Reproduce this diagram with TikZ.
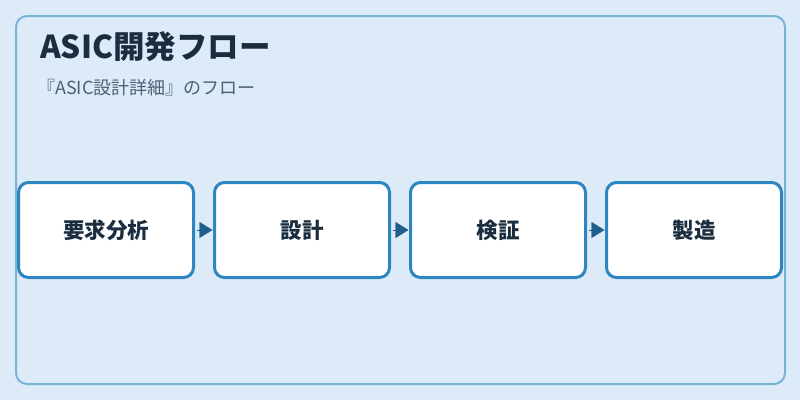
\documentclass[tikz,border=0pt]{standalone}
\usepackage{fontspec}
\setmainfont{Noto Sans CJK JP}
\usetikzlibrary{arrows.meta}
\definecolor{bg_blue}{RGB}{220, 235, 247}
\definecolor{frame_blue}{RGB}{122, 179, 214}
\definecolor{box_blue}{RGB}{46, 134, 193}
\definecolor{tip_blue}{RGB}{31, 95, 139}
\definecolor{ink}{RGB}{27, 46, 64}
\definecolor{sub_ink}{RGB}{74, 98, 117}
\tikzstyle{stage}=[rectangle,rounded corners=10pt,fill=white,draw=box_blue,
  line width=3pt,outer sep=0pt,minimum width=175pt,minimum height=95pt,
  text=ink,font=\fontsize{21.5}{26}\selectfont\bfseries]
\tikzstyle{flow}=[draw=tip_blue,line width=0.4pt,
  -{Triangle[length=13pt,width=16pt]},shorten <=3pt,shorten >=2pt]

\begin{document}
\begin{tikzpicture}[x=1pt,y=-1pt]
    \fill [bg_blue] (0,0) rectangle (800,400);
    \draw [frame_blue,line width=2pt,rounded corners=11pt] (16,16) rectangle (785,384);
    \node [anchor=base west,inner sep=0pt,text=ink,font=\fontsize{31.5}{38}\selectfont\bfseries] (title) at (40,58) {ASIC開発フロー};
    \node [anchor=base west,inner sep=0pt,text=sub_ink,font=\fontsize{18}{22}\selectfont] (subtitle) at (37,94) {『ASIC設計詳細』のフロー};
    \node [style=stage] (req) at (106,230) {要求分析};
    \node [style=stage] (design) at (302,230) {設計};
    \node [style=stage] (verify) at (498,230) {検証};
    \node [style=stage] (fab) at (694,230) {製造};
    \draw [style=flow] (req) to (design);
    \draw [style=flow] (design) to (verify);
    \draw [style=flow] (verify) to (fab);
  \end{tikzpicture}
\end{document}
